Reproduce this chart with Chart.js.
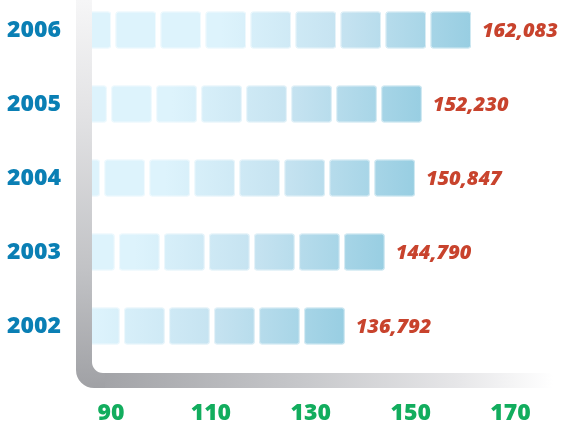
<!DOCTYPE html>
<html><head><meta charset="utf-8">
<script src="https://cdn.jsdelivr.net/npm/chart.js@4.4.1/dist/chart.umd.min.js"></script>
<style>html,body{margin:0;padding:0;background:#fff;overflow:hidden}#wrap{width:563px;height:423px;position:relative}</style>
</head><body><div id="wrap"><canvas id="c" width="563" height="423"></canvas></div>
<script>
const years = ['2002', '2003', '2004', '2005', '2006'];
const visitors = [136792, 144790, 150847, 152230, 162083];
const tickValues = [90000, 110000, 130000, 150000, 170000];
const axisMin = 86200;
const axisMax = 178500;

const YEAR_COLOR = '#0a7fb4';
const VALUE_COLOR = '#c8432d';
const TICK_COLOR = '#12ad5e';
const FONT = "'Open Sans','Noto Sans','DejaVu Sans',sans-serif";

function roundRect(ctx, x, y, w, h, r) {
  ctx.beginPath();
  ctx.moveTo(x + r, y);
  ctx.lineTo(x + w - r, y);
  ctx.arcTo(x + w, y, x + w, y + r, r);
  ctx.lineTo(x + w, y + h - r);
  ctx.arcTo(x + w, y + h, x + w - r, y + h, r);
  ctx.lineTo(x + r, y + h);
  ctx.arcTo(x, y + h, x, y + h - r, r);
  ctx.lineTo(x, y + r);
  ctx.arcTo(x, y, x + r, y, r);
  ctx.closePath();
}

const framePlugin = {
  id: 'frame',
  beforeDatasetsDraw(chart) {
    const ctx = chart.ctx, ca = chart.chartArea;
    const I = ca.left, L = ca.left - 16;
    const innerTop = ca.bottom + 47, outerBottom = ca.bottom + 62;
    const right = ca.right;
    const Ro = 18, Ri = 11;
    ctx.save();
    ctx.beginPath();
    ctx.moveTo(L, 0);
    ctx.lineTo(L, outerBottom - Ro);
    ctx.arcTo(L, outerBottom, L + Ro, outerBottom, Ro);
    ctx.lineTo(right, outerBottom);
    ctx.lineTo(right, innerTop);
    ctx.lineTo(I + Ri, innerTop);
    ctx.arcTo(I, innerTop, I, innerTop - Ri, Ri);
    ctx.lineTo(I, 0);
    ctx.closePath();
    ctx.clip();
    const gv = ctx.createLinearGradient(0, 0, 0, outerBottom);
    gv.addColorStop(0, '#f6f6f7');
    gv.addColorStop(0.3, '#e2e2e4');
    gv.addColorStop(0.7, '#c1c2c5');
    gv.addColorStop(1, '#a0a1a5');
    ctx.fillStyle = gv;
    ctx.fillRect(L, 0, I + Ri + 2 - L, outerBottom);
    const gh = ctx.createLinearGradient(I, 0, right, 0);
    gh.addColorStop(0, '#a0a1a5');
    gh.addColorStop(0.45, '#c6c7ca');
    gh.addColorStop(0.8, '#e7e7e9');
    gh.addColorStop(1, '#ffffff');
    ctx.fillStyle = gh;
    ctx.fillRect(I + Ri + 2, innerTop - 1, right - (I + Ri + 2), outerBottom - innerTop + 2);
    ctx.restore();
  }
};

const blocksPlugin = {
  id: 'blocks',
  afterDatasetsDraw(chart) {
    const ctx = chart.ctx, ca = chart.chartArea;
    const meta = chart.getDatasetMeta(0);
    ctx.save();
    ctx.beginPath();
    ctx.rect(ca.left, 0, chart.width - ca.left, chart.height);
    ctx.clip();
    meta.data.forEach((el) => {
      const p = el.getProps(['x', 'y', 'base', 'height'], true);
      const end = p.x, start = p.base, top = p.y - p.height / 2, h = p.height;
      const g = ctx.createLinearGradient(end - 250, 0, end, 0);
      g.addColorStop(0, '#ddf3fc');
      g.addColorStop(0.5, '#c4e2f0');
      g.addColorStop(1, '#98cee2');
      const pitch = 45, bw = 40.5;
      for (let r = end; r > start; r -= pitch) {
        roundRect(ctx, r - bw, top, bw, h, 3);
        ctx.fillStyle = g;
        ctx.fill();
        ctx.strokeStyle = 'rgba(255,255,255,0.55)';
        ctx.lineWidth = 1;
        roundRect(ctx, r - bw + 0.5, top + 0.5, bw - 1, h - 1, 2.5);
        ctx.stroke();
      }
    });
    ctx.restore();
    ctx.save();
    ctx.font = 'italic 800 20px ' + FONT;
    ctx.fillStyle = VALUE_COLOR;
    ctx.textAlign = 'left';
    ctx.textBaseline = 'middle';
    meta.data.forEach((el, i) => {
      const p = el.getProps(['x', 'y'], true);
      ctx.fillText(visitors[i].toLocaleString('en-US'), p.x + 11, p.y + 1);
    });
    ctx.restore();
  }
};

new Chart(document.getElementById('c'), {
  type: 'bar',
  data: {
    labels: years,
    datasets: [{
      data: visitors,
      backgroundColor: 'rgba(0,0,0,0)',
      borderWidth: 0,
      barThickness: 37
    }]
  },
  options: {
    responsive: false,
    animation: false,
    devicePixelRatio: 1,
    indexAxis: 'y',
    layout: { padding: { top: 30, right: 10, left: 0, bottom: 0 } },
    plugins: { legend: { display: false }, tooltip: { enabled: false } },
    scales: {
      x: {
        type: 'linear',
        min: axisMin,
        max: axisMax,
        grid: { display: true, drawOnChartArea: false, drawTicks: true, tickLength: 70, tickColor: 'rgba(0,0,0,0)' },
        border: { display: false },
        afterBuildTicks: (s) => { s.ticks = tickValues.map(v => ({ value: v })); },
        afterFit: (s) => { s.height = 97; },
        ticks: {
          color: TICK_COLOR,
          font: { family: FONT, size: 23, weight: '800' },
          padding: 4,
          maxRotation: 0,
          autoSkip: false,
          callback: (v) => String(v / 1000)
        }
      },
      y: {
        type: 'category',
        reverse: true,
        offset: false,
        grid: { display: true, drawOnChartArea: false, drawTicks: true, tickLength: 27, tickColor: 'rgba(0,0,0,0)' },
        border: { display: false },
        afterFit: (s) => { s.width = 92; },
        ticks: {
          color: YEAR_COLOR,
          font: { family: FONT, size: 23, weight: '800' },
          padding: 4
        }
      }
    }
  },
  plugins: [framePlugin, blocksPlugin]
});
</script>
</body></html>
